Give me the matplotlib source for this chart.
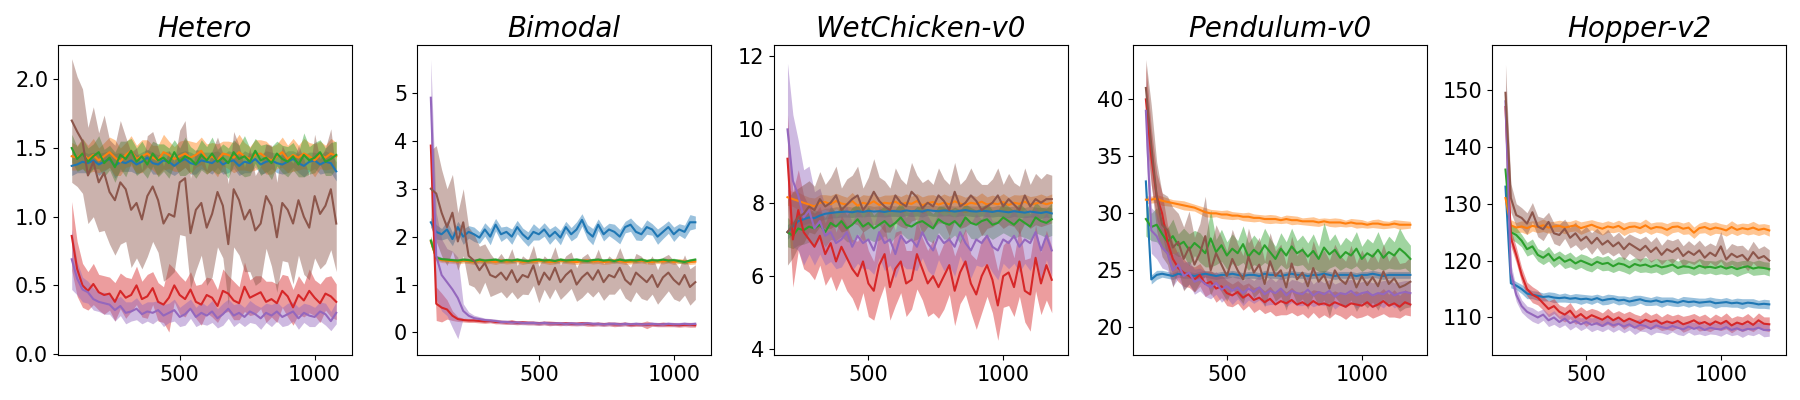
import numpy as np
import matplotlib
matplotlib.use("Agg")
import matplotlib.pyplot as plt

# x grids (evaluation steps)
x_short = np.arange(100, 1100, 20)
x_long = np.arange(200, 1200, 20)

titles = ["Hetero", "Bimodal", "WetChicken-v0", "Pendulum-v0", "Hopper-v2"]
colors = ["tab:blue", "tab:orange", "tab:green", "tab:red", "tab:purple", "tab:brown"]

# ---------------- Hetero ----------------
het_blue = [1.37, 1.38, 1.40, 1.39, 1.41, 1.38, 1.40, 1.42, 1.37, 1.40,
            1.39, 1.41, 1.38, 1.40, 1.43, 1.39, 1.38, 1.41, 1.40, 1.37,
            1.40, 1.42, 1.39, 1.38, 1.41, 1.40, 1.39, 1.42, 1.38, 1.40,
            1.41, 1.37, 1.40, 1.39, 1.42, 1.38, 1.40, 1.41, 1.39, 1.38,
            1.40, 1.42, 1.39, 1.37, 1.40, 1.41, 1.38, 1.40, 1.39, 1.33]
het_blue_sd = [0.07, 0.06, 0.08, 0.07, 0.06, 0.08, 0.07, 0.06, 0.09, 0.07,
               0.06, 0.08, 0.07, 0.07, 0.06, 0.08, 0.07, 0.06, 0.08, 0.07,
               0.07, 0.06, 0.08, 0.07, 0.06, 0.07, 0.08, 0.06, 0.07, 0.08,
               0.06, 0.07, 0.08, 0.07, 0.06, 0.07, 0.08, 0.06, 0.07, 0.07,
               0.08, 0.06, 0.07, 0.08, 0.07, 0.06, 0.07, 0.08, 0.07, 0.07]
het_orange = [1.44, 1.43, 1.46, 1.42, 1.45, 1.41, 1.44, 1.47, 1.43, 1.40,
              1.45, 1.48, 1.42, 1.44, 1.46, 1.43, 1.41, 1.47, 1.45, 1.42,
              1.44, 1.46, 1.43, 1.45, 1.48, 1.42, 1.44, 1.41, 1.46, 1.45,
              1.43, 1.47, 1.44, 1.42, 1.45, 1.46, 1.43, 1.41, 1.44, 1.47,
              1.42, 1.45, 1.43, 1.46, 1.44, 1.41, 1.45, 1.43, 1.46, 1.44]
het_orange_sd = [0.10, 0.09, 0.11, 0.10, 0.12, 0.09, 0.10, 0.11, 0.13, 0.10,
                 0.09, 0.11, 0.10, 0.12, 0.10, 0.09, 0.11, 0.13, 0.10, 0.09,
                 0.11, 0.10, 0.12, 0.09, 0.10, 0.11, 0.10, 0.12, 0.09, 0.10,
                 0.11, 0.13, 0.10, 0.09, 0.11, 0.10, 0.12, 0.10, 0.09, 0.11,
                 0.10, 0.12, 0.09, 0.11, 0.10, 0.12, 0.10, 0.09, 0.11, 0.10]
het_green = [1.50, 1.42, 1.46, 1.40, 1.44, 1.47, 1.39, 1.43, 1.36, 1.45,
             1.42, 1.48, 1.40, 1.44, 1.38, 1.46, 1.41, 1.43, 1.39, 1.47,
             1.40, 1.44, 1.42, 1.38, 1.45, 1.41, 1.46, 1.40, 1.43, 1.39,
             1.47, 1.42, 1.44, 1.40, 1.48, 1.41, 1.43, 1.39, 1.46, 1.42,
             1.40, 1.44, 1.38, 1.45, 1.41, 1.43, 1.47, 1.40, 1.42, 1.45]
het_green_sd = [0.10, 0.09, 0.11, 0.10, 0.09, 0.12, 0.10, 0.09, 0.11, 0.10,
                0.13, 0.09, 0.10, 0.11, 0.10, 0.09, 0.12, 0.10, 0.11, 0.09,
                0.10, 0.14, 0.09, 0.10, 0.11, 0.10, 0.12, 0.09, 0.10, 0.11,
                0.09, 0.10, 0.15, 0.10, 0.09, 0.11, 0.10, 0.12, 0.09, 0.10,
                0.11, 0.10, 0.09, 0.16, 0.10, 0.11, 0.09, 0.10, 0.12, 0.10]
het_red = [0.86, 0.62, 0.50, 0.46, 0.51, 0.45, 0.43, 0.44, 0.38, 0.46,
           0.41, 0.43, 0.50, 0.40, 0.42, 0.48, 0.38, 0.36, 0.41, 0.50,
           0.43, 0.40, 0.47, 0.38, 0.36, 0.43, 0.41, 0.35, 0.46, 0.44,
           0.39, 0.37, 0.49, 0.41, 0.43, 0.45, 0.38, 0.40, 0.37, 0.46,
           0.42, 0.34, 0.43, 0.39, 0.46, 0.41, 0.37, 0.44, 0.42, 0.38]
het_red_sd = [0.25, 0.20, 0.16, 0.14, 0.15, 0.13, 0.14, 0.12, 0.14, 0.13,
              0.15, 0.12, 0.14, 0.13, 0.16, 0.12, 0.14, 0.13, 0.25, 0.12,
              0.14, 0.13, 0.13, 0.12, 0.15, 0.13, 0.14, 0.12, 0.16, 0.13,
              0.14, 0.12, 0.18, 0.13, 0.14, 0.12, 0.15, 0.13, 0.14, 0.12,
              0.15, 0.13, 0.14, 0.12, 0.16, 0.13, 0.14, 0.12, 0.15, 0.13]
het_purple = [0.69, 0.55, 0.47, 0.45, 0.40, 0.38, 0.37, 0.36, 0.32, 0.35,
              0.30, 0.31, 0.33, 0.29, 0.31, 0.30, 0.32, 0.28, 0.30, 0.32,
              0.27, 0.29, 0.33, 0.27, 0.30, 0.28, 0.31, 0.26, 0.29, 0.33,
              0.28, 0.30, 0.27, 0.31, 0.29, 0.26, 0.30, 0.28, 0.31, 0.27,
              0.29, 0.31, 0.26, 0.30, 0.28, 0.27, 0.31, 0.29, 0.24, 0.30]
het_purple_sd = [0.22, 0.12, 0.09, 0.08, 0.08, 0.07, 0.08, 0.07, 0.08, 0.07,
                 0.08, 0.07, 0.08, 0.07, 0.07, 0.08, 0.07, 0.08, 0.07, 0.08,
                 0.07, 0.08, 0.07, 0.07, 0.08, 0.07, 0.08, 0.07, 0.08, 0.07,
                 0.08, 0.07, 0.07, 0.08, 0.07, 0.08, 0.07, 0.08, 0.07, 0.07,
                 0.08, 0.07, 0.08, 0.07, 0.08, 0.07, 0.07, 0.08, 0.07, 0.08]
het_brown = [1.70, 1.62, 1.55, 1.30, 1.40, 1.25, 1.32, 1.18, 1.12, 1.25,
             1.20, 1.05, 1.10, 0.98, 1.15, 1.22, 1.12, 0.95, 1.02, 1.00,
             1.25, 1.28, 0.88, 1.05, 1.10, 0.92, 1.02, 1.18, 1.08, 0.80,
             1.20, 1.12, 0.98, 1.05, 0.90, 0.95, 1.15, 1.08, 0.85, 1.10,
             1.05, 0.95, 1.12, 1.00, 0.92, 1.15, 1.02, 1.08, 1.20, 0.95]
het_brown_sd = [0.45, 0.40, 0.38, 0.35, 0.40, 0.36, 0.42, 0.38, 0.40, 0.45,
                0.38, 0.42, 0.40, 0.36, 0.44, 0.40, 0.38, 0.42, 0.46, 0.40,
                0.38, 0.42, 0.40, 0.44, 0.38, 0.42, 0.46, 0.40, 0.38, 0.44,
                0.42, 0.40, 0.38, 0.45, 0.40, 0.42, 0.38, 0.44, 0.40, 0.42,
                0.38, 0.44, 0.40, 0.42, 0.38, 0.45, 0.40, 0.42, 0.44, 0.35]

# ---------------- Bimodal ----------------
bim_blue = [2.30, 2.10, 2.05, 2.15, 1.95, 2.20, 2.00, 2.10, 2.05, 1.98,
            2.15, 2.00, 2.25, 2.05, 2.10, 2.00, 2.20, 2.05, 1.95, 2.10,
            2.05, 2.15, 2.00, 2.10, 1.98, 2.20, 2.05, 2.15, 2.35, 2.10,
            2.00, 2.25, 2.05, 2.15, 2.10, 2.00, 2.20, 2.25, 2.10, 2.05,
            2.20, 2.15, 2.00, 2.10, 2.20, 2.05, 2.15, 2.10, 2.30, 2.30]
bim_blue_sd = [0.10, 0.15, 0.12, 0.18, 0.14, 0.12, 0.16, 0.13, 0.15, 0.12,
               0.14, 0.17, 0.13, 0.15, 0.12, 0.16, 0.14, 0.13, 0.15, 0.17,
               0.12, 0.14, 0.16, 0.13, 0.15, 0.12, 0.14, 0.16, 0.13, 0.15,
               0.17, 0.12, 0.14, 0.13, 0.16, 0.15, 0.12, 0.14, 0.17, 0.13,
               0.15, 0.12, 0.16, 0.14, 0.13, 0.15, 0.12, 0.14, 0.16, 0.13]
bim_orange = [1.90, 1.55, 1.51, 1.50, 1.49, 1.48, 1.50, 1.49, 1.47, 1.50,
              1.48, 1.49, 1.47, 1.50, 1.48, 1.49, 1.50, 1.47, 1.49, 1.48,
              1.50, 1.49, 1.47, 1.48, 1.50, 1.49, 1.48, 1.47, 1.49, 1.50,
              1.48, 1.49, 1.47, 1.48, 1.50, 1.49, 1.47, 1.48, 1.49, 1.50,
              1.48, 1.47, 1.49, 1.48, 1.50, 1.47, 1.49, 1.48, 1.47, 1.48]
bim_orange_sd = [0.10, 0.06, 0.05, 0.05, 0.05, 0.05, 0.05, 0.05, 0.05, 0.05,
                 0.05, 0.05, 0.05, 0.05, 0.05, 0.05, 0.05, 0.05, 0.05, 0.05,
                 0.05, 0.05, 0.05, 0.05, 0.05, 0.05, 0.05, 0.05, 0.05, 0.05,
                 0.05, 0.05, 0.05, 0.05, 0.05, 0.05, 0.05, 0.05, 0.05, 0.05,
                 0.05, 0.05, 0.05, 0.05, 0.05, 0.05, 0.05, 0.05, 0.05, 0.05]
bim_green = [1.92, 1.56, 1.53, 1.52, 1.51, 1.50, 1.52, 1.51, 1.49, 1.52,
             1.50, 1.51, 1.52, 1.49, 1.51, 1.50, 1.52, 1.50, 1.49, 1.51,
             1.52, 1.50, 1.51, 1.49, 1.52, 1.50, 1.51, 1.52, 1.50, 1.49,
             1.51, 1.52, 1.50, 1.51, 1.49, 1.52, 1.50, 1.51, 1.50, 1.52,
             1.49, 1.51, 1.50, 1.52, 1.50, 1.51, 1.49, 1.47, 1.50, 1.52]
bim_green_sd = [0.10, 0.05, 0.04, 0.04, 0.04, 0.04, 0.04, 0.04, 0.04, 0.04,
                0.04, 0.04, 0.04, 0.04, 0.04, 0.04, 0.04, 0.04, 0.04, 0.04,
                0.04, 0.04, 0.04, 0.04, 0.04, 0.04, 0.04, 0.04, 0.04, 0.04,
                0.04, 0.04, 0.04, 0.04, 0.04, 0.04, 0.04, 0.04, 0.04, 0.04,
                0.04, 0.04, 0.04, 0.04, 0.04, 0.04, 0.04, 0.04, 0.04, 0.04]
bim_red = [3.90, 0.60, 0.52, 0.48, 0.35, 0.28, 0.26, 0.25, 0.25, 0.24,
           0.23, 0.24, 0.22, 0.22, 0.21, 0.22, 0.20, 0.21, 0.20, 0.20,
           0.19, 0.20, 0.19, 0.19, 0.18, 0.19, 0.18, 0.18, 0.19, 0.18,
           0.17, 0.18, 0.17, 0.18, 0.17, 0.17, 0.18, 0.16, 0.17, 0.17,
           0.16, 0.17, 0.16, 0.17, 0.16, 0.16, 0.15, 0.16, 0.16, 0.15]
bim_red_sd = [0.50, 0.35, 0.30, 0.20, 0.10, 0.05, 0.04, 0.04, 0.04, 0.04,
              0.04, 0.04, 0.04, 0.04, 0.04, 0.05, 0.04, 0.04, 0.04, 0.04,
              0.04, 0.04, 0.05, 0.04, 0.04, 0.04, 0.04, 0.04, 0.04, 0.05,
              0.04, 0.04, 0.04, 0.04, 0.05, 0.04, 0.04, 0.04, 0.04, 0.04,
              0.08, 0.04, 0.04, 0.05, 0.04, 0.04, 0.04, 0.04, 0.05, 0.04]
bim_purple = [4.90, 1.60, 1.20, 1.05, 0.90, 0.72, 0.45, 0.35, 0.30, 0.28,
              0.26, 0.25, 0.24, 0.22, 0.22, 0.21, 0.21, 0.20, 0.20, 0.20,
              0.19, 0.20, 0.19, 0.19, 0.19, 0.18, 0.19, 0.18, 0.18, 0.19,
              0.18, 0.18, 0.17, 0.18, 0.18, 0.17, 0.18, 0.17, 0.18, 0.17,
              0.17, 0.18, 0.17, 0.17, 0.18, 0.17, 0.17, 0.18, 0.17, 0.18]
bim_purple_sd = [0.80, 0.90, 0.75, 0.70, 0.80, 0.85, 0.15, 0.08, 0.06, 0.05,
                 0.04, 0.04, 0.04, 0.04, 0.04, 0.04, 0.04, 0.04, 0.04, 0.04,
                 0.04, 0.04, 0.04, 0.04, 0.04, 0.04, 0.04, 0.04, 0.04, 0.04,
                 0.04, 0.04, 0.04, 0.04, 0.04, 0.04, 0.04, 0.04, 0.04, 0.04,
                 0.04, 0.04, 0.04, 0.04, 0.04, 0.04, 0.04, 0.04, 0.04, 0.04]
bim_brown = [3.00, 2.90, 2.50, 2.20, 2.50, 1.90, 2.30, 1.60, 1.50, 1.30,
             1.45, 1.20, 1.15, 1.25, 1.10, 1.30, 1.05, 1.20, 1.15, 1.40,
             1.00, 1.25, 1.10, 1.35, 1.05, 1.20, 1.30, 1.00, 1.15, 1.25,
             1.10, 1.30, 1.05, 1.20, 1.15, 1.35, 1.10, 1.00, 1.25, 1.15,
             1.05, 1.20, 0.95, 1.15, 1.25, 1.10, 1.00, 1.20, 0.95, 1.05]
bim_brown_sd = [0.80, 1.00, 0.90, 0.80, 0.80, 0.60, 0.70, 0.60, 0.55, 0.50,
                0.40, 0.45, 0.35, 0.40, 0.38, 0.45, 0.35, 0.40, 0.36, 0.42,
                0.38, 0.35, 0.40, 0.44, 0.36, 0.40, 0.38, 0.35, 0.42, 0.40,
                0.36, 0.44, 0.38, 0.40, 0.35, 0.42, 0.38, 0.36, 0.40, 0.44,
                0.38, 0.40, 0.36, 0.42, 0.38, 0.40, 0.35, 0.42, 0.38, 0.36]

# ---------------- WetChicken-v0 ----------------
wet_blue = [7.20, 7.35, 7.50, 7.55, 7.60, 7.58, 7.65, 7.70, 7.72, 7.74,
            7.75, 7.76, 7.74, 7.77, 7.75, 7.78, 7.76, 7.77, 7.75, 7.78,
            7.77, 7.76, 7.79, 7.77, 7.78, 7.76, 7.80, 7.78, 7.77, 7.79,
            7.78, 7.76, 7.78, 7.80, 7.77, 7.76, 7.78, 7.77, 7.75, 7.78,
            7.76, 7.74, 7.77, 7.75, 7.73, 7.76, 7.74, 7.72, 7.75, 7.71]
wet_blue_sd = [0.20, 0.18, 0.16, 0.15, 0.15, 0.15, 0.14, 0.15, 0.14, 0.15,
               0.14, 0.15, 0.14, 0.15, 0.14, 0.15, 0.14, 0.15, 0.14, 0.15,
               0.14, 0.15, 0.14, 0.15, 0.14, 0.15, 0.14, 0.15, 0.14, 0.15,
               0.14, 0.15, 0.14, 0.15, 0.14, 0.15, 0.14, 0.15, 0.14, 0.15,
               0.14, 0.15, 0.14, 0.15, 0.14, 0.15, 0.14, 0.15, 0.14, 0.15]
wet_orange = [8.15, 8.10, 8.05, 8.00, 7.95, 7.90, 8.00, 8.02, 7.96, 8.05,
              7.98, 7.95, 8.05, 7.92, 8.00, 7.96, 8.04, 7.94, 8.00, 7.98,
              8.03, 7.95, 8.00, 7.97, 8.05, 7.93, 7.99, 8.02, 7.95, 8.00,
              7.96, 8.04, 7.98, 7.94, 8.00, 7.97, 8.03, 7.95, 7.99, 7.96,
              8.02, 7.94, 8.00, 7.97, 8.03, 7.95, 7.98, 8.01, 7.96, 8.00]
wet_orange_sd = [0.22, 0.20, 0.24, 0.21, 0.20, 0.23, 0.22, 0.20, 0.24, 0.21,
                 0.22, 0.20, 0.23, 0.21, 0.22, 0.24, 0.20, 0.22, 0.21, 0.23,
                 0.20, 0.22, 0.24, 0.21, 0.20, 0.23, 0.22, 0.20, 0.21, 0.24,
                 0.22, 0.20, 0.23, 0.21, 0.22, 0.20, 0.24, 0.21, 0.22, 0.20,
                 0.23, 0.21, 0.22, 0.24, 0.20, 0.22, 0.21, 0.23, 0.22, 0.24]
wet_green = [7.20, 7.10, 7.30, 7.25, 7.35, 7.30, 7.40, 7.20, 7.45, 7.35,
             7.50, 7.30, 7.40, 7.55, 7.35, 7.45, 7.30, 7.40, 7.50, 7.35,
             7.45, 7.60, 7.40, 7.35, 7.45, 7.50, 7.40, 7.30, 7.55, 7.45,
             7.40, 7.50, 7.35, 7.60, 7.45, 7.40, 7.50, 7.55, 7.40, 7.45,
             7.60, 7.50, 7.40, 7.55, 7.45, 7.35, 7.60, 7.50, 7.45, 7.55]
wet_green_sd = [0.40, 0.35, 0.45, 0.38, 0.42, 0.50, 0.36, 0.40, 0.45, 0.38,
                0.42, 0.36, 0.48, 0.40, 0.38, 0.44, 0.36, 0.42, 0.40, 0.46,
                0.38, 0.42, 0.36, 0.40, 0.45, 0.38, 0.42, 0.40, 0.36, 0.44,
                0.40, 0.38, 0.46, 0.36, 0.42, 0.40, 0.38, 0.44, 0.40, 0.36,
                0.42, 0.40, 0.38, 0.45, 0.40, 0.36, 0.42, 0.38, 0.40, 0.44]
wet_red = [9.20, 7.00, 7.80, 7.20, 7.00, 6.80, 7.10, 6.60, 6.90, 6.40,
           6.80, 6.50, 6.20, 6.00, 6.40, 5.80, 5.60, 6.30, 6.60, 5.70,
           6.20, 6.40, 5.80, 5.90, 6.60, 6.20, 5.80, 6.00, 5.70, 6.00,
           6.30, 5.60, 6.10, 6.40, 5.80, 5.50, 6.00, 6.30, 5.90, 5.20,
           6.00, 6.10, 5.70, 6.40, 5.60, 5.50, 6.50, 5.80, 6.30, 5.90]
wet_red_sd = [1.20, 1.30, 1.10, 1.00, 0.90, 0.90, 0.80, 0.85, 0.90, 0.80,
              0.85, 0.90, 0.80, 0.95, 0.85, 0.90, 0.80, 0.95, 0.85, 0.90,
              1.00, 0.85, 0.90, 0.80, 0.95, 0.85, 0.90, 1.00, 0.85, 0.90,
              0.80, 0.95, 0.85, 0.90, 0.80, 0.95, 1.00, 0.85, 0.90, 0.95,
              0.85, 0.90, 0.80, 0.95, 0.85, 1.00, 0.90, 0.85, 0.95, 0.90]
wet_purple = [10.00, 8.60, 8.20, 7.60, 7.80, 7.30, 7.50, 7.10, 7.20, 6.90,
              7.00, 7.20, 6.80, 7.10, 6.90, 7.00, 6.70, 7.20, 6.90, 7.00,
              6.60, 7.10, 6.90, 7.00, 6.80, 7.20, 6.90, 6.70, 7.10, 6.90,
              7.00, 6.80, 7.20, 6.90, 6.70, 7.00, 6.90, 7.10, 6.80, 6.70,
              7.00, 6.90, 7.10, 6.80, 7.00, 6.90, 7.20, 6.70, 7.10, 6.70]
wet_purple_sd = [1.80, 1.80, 1.50, 1.30, 1.20, 1.00, 0.90, 0.80, 0.80, 0.70,
                 0.75, 0.70, 0.65, 0.75, 0.70, 0.80, 0.65, 0.70, 0.75, 0.70,
                 0.65, 0.75, 0.70, 0.80, 0.65, 0.70, 0.75, 0.70, 0.65, 0.75,
                 0.70, 0.80, 0.65, 0.70, 0.75, 0.70, 0.65, 0.75, 0.70, 0.80,
                 0.65, 0.70, 0.75, 0.70, 0.65, 0.75, 0.70, 0.80, 0.65, 0.70]
wet_brown = [7.20, 7.40, 7.60, 7.70, 7.90, 7.80, 8.10, 7.90, 8.00, 8.20,
             7.80, 7.95, 8.10, 8.20, 7.80, 8.00, 8.30, 8.05, 7.90, 7.80,
             8.20, 8.00, 7.90, 8.30, 8.15, 7.85, 8.00, 7.90, 8.20, 8.05,
             7.80, 8.30, 7.90, 8.00, 8.20, 8.05, 7.80, 7.90, 8.00, 8.20,
             7.90, 8.10, 7.95, 7.80, 8.20, 7.90, 8.10, 8.00, 8.10, 8.10]
wet_brown_sd = [0.90, 0.90, 0.80, 0.80, 0.70, 0.65, 0.75, 0.60, 0.70, 0.80,
                0.60, 0.70, 0.65, 0.80, 0.60, 0.70, 0.90, 0.65, 0.70, 0.60,
                0.75, 0.65, 0.60, 0.80, 0.60, 0.70, 0.65, 0.60, 0.75, 0.60,
                0.70, 0.80, 0.60, 0.65, 0.75, 0.60, 0.70, 0.60, 0.65, 0.75,
                0.60, 0.70, 0.60, 0.65, 0.75, 0.60, 0.70, 0.65, 0.70, 0.65]

# ---------------- Pendulum-v0 ----------------
pen_blue = [32.8, 24.2, 24.6, 24.7, 24.6, 24.5, 24.7, 24.6, 24.6, 24.5,
            24.6, 24.7, 24.6, 24.5, 24.6, 24.6, 24.7, 24.6, 24.5, 24.6,
            24.6, 24.5, 24.7, 24.6, 24.6, 24.5, 24.6, 24.7, 24.6, 24.6,
            24.5, 24.6, 24.6, 24.7, 24.6, 24.5, 24.6, 24.6, 24.6, 24.5,
            24.6, 24.6, 24.7, 24.6, 24.5, 24.6, 24.6, 24.6, 24.6, 24.6]
pen_blue_sd = [0.5, 0.4, 0.4, 0.3, 0.3, 0.3, 0.3, 0.3, 0.3, 0.3,
               0.3, 0.3, 0.3, 0.3, 0.3, 0.3, 0.3, 0.3, 0.3, 0.3,
               0.3, 0.3, 0.3, 0.3, 0.3, 0.3, 0.3, 0.3, 0.3, 0.3,
               0.3, 0.3, 0.3, 0.3, 0.3, 0.3, 0.3, 0.3, 0.3, 0.3,
               0.3, 0.3, 0.3, 0.3, 0.3, 0.3, 0.3, 0.3, 0.3, 0.3]
pen_orange = [31.2, 31.2, 31.3, 31.1, 31.0, 30.9, 30.8, 30.7, 30.6, 30.5,
              30.3, 30.1, 30.0, 30.0, 29.9, 29.9, 29.8, 29.8, 29.7, 29.7,
              29.6, 29.6, 29.5, 29.5, 29.5, 29.4, 29.5, 29.4, 29.4, 29.3,
              29.3, 29.3, 29.2, 29.3, 29.2, 29.2, 29.2, 29.1, 29.2, 29.1,
              29.1, 29.0, 29.1, 29.1, 29.0, 29.0, 29.1, 29.0, 29.0, 29.0]
pen_orange_sd = [0.35, 0.30, 0.35, 0.40, 0.35, 0.30, 0.35, 0.40, 0.35, 0.30,
                 0.35, 0.40, 0.35, 0.30, 0.35, 0.40, 0.35, 0.30, 0.35, 0.40,
                 0.35, 0.30, 0.35, 0.40, 0.35, 0.30, 0.35, 0.40, 0.35, 0.30,
                 0.35, 0.40, 0.35, 0.30, 0.35, 0.40, 0.35, 0.30, 0.35, 0.40,
                 0.35, 0.30, 0.35, 0.40, 0.35, 0.30, 0.35, 0.40, 0.35, 0.30]
pen_green = [29.5, 28.8, 29.0, 28.2, 27.5, 28.0, 27.2, 27.5, 26.8, 27.4,
             27.0, 26.5, 27.8, 26.6, 27.2, 26.3, 26.9, 26.5, 27.3, 26.2,
             26.8, 26.4, 27.2, 26.6, 26.0, 26.9, 26.3, 27.1, 26.5, 26.8,
             26.2, 26.7, 26.0, 27.0, 26.4, 26.8, 26.1, 26.6, 26.3, 26.9,
             26.0, 26.5, 26.2, 26.8, 26.1, 26.6, 26.3, 26.9, 26.5, 26.0]
pen_green_sd = [1.5, 1.2, 1.5, 1.3, 1.2, 1.5, 1.0, 1.2, 1.4, 1.1,
                1.3, 1.2, 2.5, 1.1, 1.4, 1.2, 1.3, 1.1, 1.6, 1.2,
                1.3, 1.1, 1.5, 1.2, 1.1, 1.4, 1.2, 1.6, 1.1, 1.3,
                1.2, 1.5, 1.1, 2.2, 1.2, 1.4, 1.1, 1.3, 1.2, 1.5,
                1.1, 1.3, 1.2, 1.6, 1.1, 1.4, 1.2, 1.8, 1.3, 1.2]
pen_red = [40.0, 35.0, 31.5, 30.0, 27.5, 26.0, 25.2, 24.8, 24.5, 24.2,
           24.6, 23.8, 24.0, 23.4, 23.6, 23.0, 22.8, 23.1, 22.6, 22.9,
           22.4, 22.6, 22.2, 22.5, 22.0, 22.3, 22.1, 22.4, 22.0, 22.2,
           21.9, 22.3, 22.0, 22.1, 21.9, 22.2, 22.0, 21.8, 22.1, 22.0,
           21.9, 22.2, 21.8, 22.0, 22.3, 21.9, 22.1, 21.8, 22.2, 22.0]
pen_red_sd = [3.0, 2.5, 2.0, 1.8, 1.5, 1.4, 1.2, 1.2, 1.0, 1.1,
              1.0, 1.1, 1.0, 1.2, 1.0, 1.1, 1.0, 1.0, 1.1, 1.0,
              1.1, 1.0, 1.0, 1.1, 1.0, 1.2, 1.0, 1.1, 1.0, 1.0,
              1.1, 1.0, 1.2, 1.0, 1.1, 1.0, 1.0, 1.1, 1.0, 1.2,
              1.0, 1.1, 1.0, 1.0, 1.1, 1.0, 1.2, 1.0, 1.1, 1.0]
pen_purple = [39.0, 28.5, 28.0, 27.0, 26.5, 25.0, 25.5, 24.5, 24.8, 24.0,
              24.2, 23.8, 23.5, 23.9, 23.3, 23.6, 23.2, 23.5, 23.0, 23.4,
              23.1, 23.5, 22.9, 23.2, 23.0, 23.4, 22.8, 23.2, 23.0, 22.9,
              23.3, 22.8, 23.1, 22.9, 23.2, 22.7, 23.0, 22.9, 23.2, 22.8,
              23.0, 23.1, 22.8, 23.0, 22.9, 23.2, 22.8, 23.0, 23.1, 23.0]
pen_purple_sd = [3.0, 2.0, 2.0, 1.8, 1.5, 1.4, 1.2, 1.2, 1.0, 1.1,
                 1.0, 1.1, 1.0, 1.0, 1.1, 1.0, 1.2, 1.0, 1.1, 1.0,
                 1.0, 1.1, 1.0, 1.2, 1.0, 1.1, 1.0, 1.0, 1.1, 1.0,
                 1.2, 1.0, 1.1, 1.0, 1.0, 1.1, 1.0, 1.2, 1.0, 1.1,
                 1.0, 1.0, 1.1, 1.0, 1.2, 1.0, 1.1, 1.0, 1.0, 1.1]
pen_brown = [41.0, 36.0, 31.5, 29.0, 28.5, 27.0, 27.5, 26.0, 27.0, 25.5,
             26.5, 28.0, 25.0, 26.5, 25.5, 24.5, 26.0, 25.0, 24.2, 26.2,
             24.8, 25.5, 23.8, 25.8, 24.5, 25.0, 23.5, 25.6, 24.2, 24.8,
             23.6, 25.2, 24.0, 24.6, 23.4, 25.0, 24.2, 23.8, 24.8, 23.5,
             24.5, 23.7, 24.4, 23.6, 24.9, 23.8, 24.3, 23.5, 23.7, 24.0]
pen_brown_sd = [2.5, 3.5, 3.0, 2.8, 3.0, 3.5, 2.5, 2.8, 3.2, 2.4,
                2.6, 3.5, 2.2, 2.5, 2.4, 2.2, 2.6, 2.3, 2.1, 2.5,
                2.2, 2.4, 2.0, 2.5, 2.2, 2.3, 2.0, 2.4, 2.1, 2.3,
                2.0, 2.4, 2.1, 2.2, 2.5, 2.3, 2.1, 2.0, 2.4, 2.1,
                2.3, 2.0, 2.2, 2.1, 2.4, 2.0, 2.2, 2.1, 2.0, 2.2]

# ---------------- Hopper-v2 ----------------
hop_blue = [133.0, 116.0, 115.6, 115.0, 114.2, 114.0, 113.8, 113.6, 113.7, 113.5,
            113.4, 113.5, 113.3, 113.4, 113.2, 113.3, 113.1, 113.4, 113.0, 113.2,
            113.3, 113.0, 113.1, 112.8, 113.0, 113.2, 112.9, 112.8, 113.0, 112.7,
            112.9, 112.8, 112.6, 112.9, 112.7, 112.8, 112.6, 112.7, 112.8, 112.5,
            112.6, 112.7, 112.5, 112.6, 112.4, 112.6, 112.5, 112.3, 112.4, 112.3]
hop_blue_sd = [1.0, 0.8, 0.7, 0.8, 0.9, 0.7, 0.8, 0.7, 0.8, 0.9,
               0.7, 0.8, 0.7, 0.8, 0.9, 0.7, 0.8, 0.7, 0.8, 0.9,
               0.7, 0.8, 0.7, 0.8, 0.9, 0.7, 0.8, 0.7, 0.8, 0.9,
               0.7, 0.8, 0.7, 0.8, 0.9, 0.7, 0.8, 0.7, 0.8, 0.9,
               0.7, 0.8, 0.7, 0.8, 0.9, 0.7, 0.8, 0.7, 0.8, 0.8]
hop_orange = [131.0, 126.2, 125.8, 126.0, 125.7, 126.1, 125.9, 126.2, 125.8, 126.0,
              126.1, 125.8, 126.0, 126.2, 125.7, 126.0, 126.3, 125.9, 125.6, 126.0,
              125.8, 126.1, 125.5, 125.9, 126.0, 125.7, 126.2, 125.6, 125.9, 125.8,
              125.4, 125.9, 126.0, 125.6, 125.8, 124.9, 125.7, 125.9, 125.5, 125.8,
              125.6, 125.3, 125.9, 125.4, 125.7, 125.5, 125.8, 125.4, 125.6, 125.3]
hop_orange_sd = [1.5, 1.0, 0.9, 1.0, 1.1, 0.9, 1.0, 1.1, 1.0, 0.9,
                 1.0, 1.1, 0.9, 1.0, 1.1, 1.0, 0.9, 1.0, 1.1, 1.0,
                 0.9, 1.0, 1.1, 1.0, 0.9, 1.0, 1.1, 1.0, 0.9, 1.0,
                 1.1, 1.0, 0.9, 1.0, 1.1, 1.0, 0.9, 1.0, 1.1, 1.0,
                 0.9, 1.0, 1.1, 1.0, 0.9, 1.0, 1.1, 1.0, 0.9, 1.0]
hop_green = [136.0, 125.0, 124.5, 123.5, 122.0, 122.5, 121.0, 120.5, 121.2, 120.0,
             120.6, 119.8, 120.2, 119.5, 120.0, 119.6, 119.2, 119.8, 119.4, 119.6,
             119.0, 119.5, 119.3, 118.8, 119.4, 119.1, 119.3, 118.9, 119.2, 118.8,
             119.0, 119.3, 118.7, 119.0, 118.9, 118.6, 119.1, 118.8, 118.9, 118.7,
             119.0, 118.6, 118.9, 118.5, 118.8, 119.0, 118.6, 118.8, 118.7, 118.5]
hop_green_sd = [1.5, 1.2, 1.3, 1.1, 1.2, 1.3, 1.1, 1.2, 1.3, 1.2,
                1.1, 1.2, 1.3, 1.1, 1.2, 1.3, 1.2, 1.1, 1.2, 1.3,
                1.1, 1.2, 1.3, 1.2, 1.1, 1.2, 1.3, 1.1, 1.2, 1.3,
                1.2, 1.1, 1.2, 1.3, 1.1, 1.2, 1.3, 1.2, 1.1, 1.2,
                1.3, 1.1, 1.2, 1.3, 1.2, 1.1, 1.2, 1.3, 1.1, 1.2]
hop_red = [147.0, 124.0, 121.0, 117.5, 115.0, 114.0, 113.5, 112.5, 111.5, 112.0,
           111.0, 110.5, 111.2, 110.0, 110.6, 109.8, 110.4, 110.0, 109.6, 110.2,
           109.5, 110.0, 109.3, 109.8, 109.4, 109.0, 109.6, 109.2, 109.5, 108.9,
           109.3, 109.0, 109.4, 108.8, 109.1, 109.5, 108.9, 109.2, 108.7, 109.3,
           108.9, 109.4, 108.6, 109.1, 108.8, 109.3, 108.7, 109.5, 108.9, 108.8]
hop_red_sd = [3.0, 1.5, 1.4, 1.3, 1.2, 1.4, 1.3, 1.2, 1.4, 1.3,
              1.2, 1.3, 1.4, 1.2, 1.3, 1.4, 1.2, 1.3, 1.2, 1.4,
              1.3, 1.2, 1.4, 1.3, 1.2, 1.3, 1.4, 1.2, 1.3, 1.2,
              1.4, 1.3, 1.2, 1.4, 1.3, 1.2, 1.3, 1.4, 1.2, 1.3,
              1.2, 1.4, 1.3, 1.2, 1.3, 1.4, 1.2, 1.3, 1.2, 1.3]
hop_purple = [148.0, 118.0, 114.0, 112.0, 111.0, 110.5, 110.0, 110.5, 109.5, 110.0,
              109.2, 109.8, 109.0, 109.4, 108.8, 109.2, 108.7, 109.0, 108.5, 109.1,
              108.6, 108.9, 108.4, 108.8, 108.2, 108.7, 108.5, 108.0, 108.6, 108.3,
              108.1, 108.5, 108.2, 107.9, 108.4, 108.0, 108.3, 107.8, 108.2, 108.0,
              107.9, 108.3, 107.8, 108.1, 107.7, 108.0, 107.9, 108.2, 107.8, 107.8]
hop_purple_sd = [3.0, 1.5, 1.2, 1.1, 1.0, 1.2, 1.1, 1.0, 1.1, 1.2,
                 1.0, 1.1, 1.2, 1.0, 1.1, 1.0, 1.2, 1.1, 1.0, 1.1,
                 1.2, 1.0, 1.1, 1.0, 1.2, 1.1, 1.0, 1.1, 1.2, 1.0,
                 1.1, 1.0, 1.2, 1.1, 1.0, 1.1, 1.2, 1.0, 1.1, 1.0,
                 1.2, 1.1, 1.0, 1.1, 1.2, 1.0, 1.1, 1.0, 1.2, 1.1]
hop_brown = [149.5, 131.0, 128.0, 127.5, 126.5, 128.5, 126.0, 125.5, 126.8, 124.8,
             124.5, 125.6, 124.0, 124.8, 123.5, 124.2, 123.0, 124.0, 122.8, 123.5,
             122.5, 123.2, 122.0, 123.0, 122.4, 121.8, 122.6, 121.5, 122.3, 121.0,
             122.0, 121.5, 122.2, 120.8, 121.6, 121.0, 121.8, 120.5, 121.4, 120.8,
             122.5, 120.2, 121.2, 120.6, 121.0, 120.0, 121.5, 120.4, 120.8, 120.0]
hop_brown_sd = [5.0, 2.5, 2.0, 1.8, 1.9, 1.7, 1.8, 2.0, 1.7, 1.8,
                1.9, 1.7, 1.8, 2.0, 1.7, 1.8, 1.9, 1.7, 1.8, 2.0,
                1.7, 1.8, 1.9, 1.7, 1.8, 2.0, 1.7, 1.8, 1.9, 1.7,
                1.8, 2.0, 1.7, 1.8, 1.9, 1.7, 1.8, 2.0, 1.7, 1.8,
                2.6, 1.7, 1.8, 2.0, 1.7, 1.8, 1.9, 1.7, 1.8, 1.9]

panels = [
    (x_short, [het_blue, het_orange, het_green, het_red, het_purple, het_brown],
     [het_blue_sd, het_orange_sd, het_green_sd, het_red_sd, het_purple_sd, het_brown_sd],
     (49, 1138), (-0.007, 2.25), [0.0, 0.5, 1.0, 1.5, 2.0]),
    (x_short, [bim_blue, bim_orange, bim_green, bim_red, bim_purple, bim_brown],
     [bim_blue_sd, bim_orange_sd, bim_green_sd, bim_red_sd, bim_purple_sd, bim_brown_sd],
     (49, 1138), (-0.47, 6.0), [0, 1, 2, 3, 4, 5]),
    (x_long, [wet_blue, wet_orange, wet_green, wet_red, wet_purple, wet_brown],
     [wet_blue_sd, wet_orange_sd, wet_green_sd, wet_red_sd, wet_purple_sd, wet_brown_sd],
     (150, 1240), (3.85, 12.3), [4, 6, 8, 10, 12]),
    (x_long, [pen_blue, pen_orange, pen_green, pen_red, pen_purple, pen_brown],
     [pen_blue_sd, pen_orange_sd, pen_green_sd, pen_red_sd, pen_purple_sd, pen_brown_sd],
     (152, 1241), (17.57, 44.77), [20, 25, 30, 35, 40]),
    (x_long, [hop_blue, hop_orange, hop_green, hop_red, hop_purple, hop_brown],
     [hop_blue_sd, hop_orange_sd, hop_green_sd, hop_red_sd, hop_purple_sd, hop_brown_sd],
     (150, 1242), (103.4, 157.9), [110, 120, 130, 140, 150]),
]

fig = plt.figure(figsize=(18, 4), dpi=100)
lefts = [0.0322, 0.2317, 0.4300, 0.6294, 0.8289]

for i, (x, means, sds, xlim, ylim, yticks) in enumerate(panels):
    ax = fig.add_axes([lefts[i], 0.1125, 0.1633, 0.775])
    # bands first, then mean lines on top
    for m, s, c in zip(means, sds, colors):
        m = np.array(m)
        s = np.array(s)
        ax.fill_between(x, m - s, m + s, color=c, alpha=0.45, linewidth=0)
    for m, c in zip(means, colors):
        ax.plot(x, m, color=c, linewidth=1.5)
    ax.set_xlim(*xlim)
    ax.set_ylim(*ylim)
    ax.set_xticks([500, 1000])
    ax.set_yticks(yticks)
    ax.tick_params(labelsize=15)
    ax.set_title(titles[i], fontsize=20, style="italic")

fig.savefig("out.png", dpi=100)
